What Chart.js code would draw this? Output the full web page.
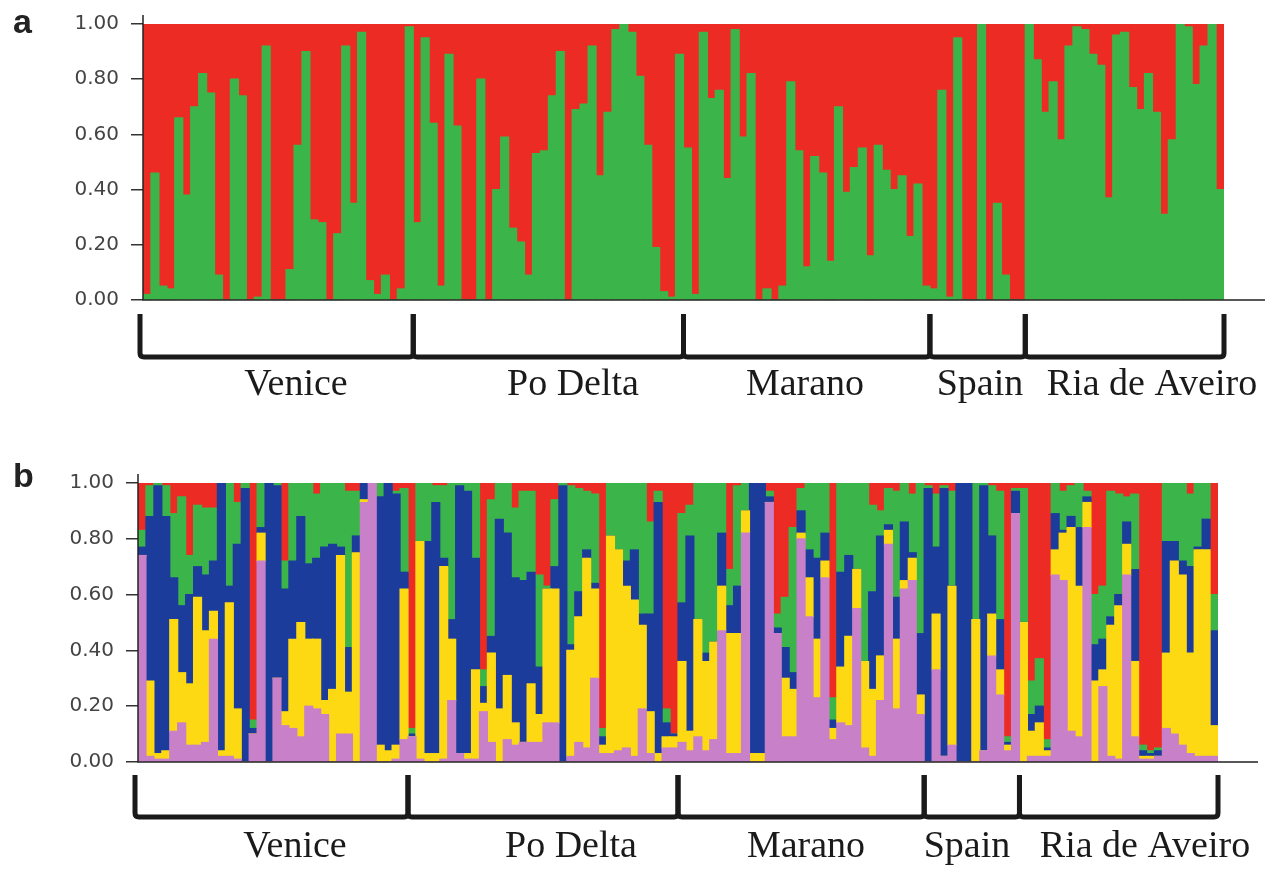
<!DOCTYPE html>
<html>
<head>
<meta charset="utf-8">
<script src="https://cdn.jsdelivr.net/npm/chart.js@4.4.0/dist/chart.umd.min.js"></script>
<style>
  body { margin: 0; background: #fff; width: 1274px; height: 884px; overflow: hidden; position: relative; }
  canvas { position: absolute; left: 0; }
  #chartA { top: 0; }
  #chartB { top: 442px; }
</style>
</head>
<body>
<canvas id="chartA" width="1274" height="442"></canvas>
<canvas id="chartB" width="1274" height="442"></canvas>
<script>
// populations along the x axis, and how many individuals each one has
var populations = ['Venice', 'Po Delta', 'Marano', 'Spain', 'Ria de Aveiro'];
var popSizes = [34, 34, 31, 12, 25];
var yTickLabels = ['0.00', '0.20', '0.40', '0.60', '0.80', '1.00'];

// panel a (K=2): green membership per individual, red is the rest
var greenK2 = [
  .02,.46,.05,.04,.66,.38,.70,.82,.75,.09,0,.80,.74,0,.01,.92,0,0,.11,.56,.90,.29,.28,0,.24,.92,.35,.97,.07,.02,.09,0,.04,.99,
  .28,.95,.64,.05,.89,.63,0,0,.80,0,.40,.59,.26,.21,.09,.53,.54,.74,.90,0,.69,.71,.92,.45,.68,.98,1,.97,.81,.56,.19,.03,.01,.89,
  .55,.02,.97,.73,.76,.44,.98,.59,.82,0,.04,0,.05,.79,.54,.12,.52,.46,.14,.70,.39,.48,.55,.16,.56,.47,.40,.45,.23,.42,
  .05,.04,.76,.01,.95,0,0,1,0,.35,.09,0,0,
  1,.87,.68,.79,.58,.92,.99,.98,.89,.85,.37,.96,.97,.77,.69,.82,.68,.31,.58,1,.99,.78,.92,1,.40
];

// panel b (K=5): top of each colour band, read bottom to top (purple, yellow, blue, green; red fills to 1)
var topPurple = [
  .74,.02,.01,.01,.11,.14,.06,.06,.07,.44,
  .02,.02,.01,0,.10,.72,0,.30,.13,.12,
  .09,.20,.19,.17,0,.10,.10,0,.93,1,
  0,0,.01,.08,.09,.01,0,0,.01,.22,
  .03,.01,.01,.18,.07,0,.08,.06,.07,.07,
  .07,.14,.14,0,.02,.07,.05,.30,.03,.03,
  .04,.05,.02,.19,.03,0,.05,.05,.07,.04,
  .09,.04,.08,.47,.03,.03,.82,0,0,.93,
  .46,.09,.09,.80,.52,.23,.66,.08,.14,.13,
  .55,.05,.02,.22,.78,.19,.62,.65,.17,0,
  .33,.02,.06,0,0,0,.04,.38,.24,.04,
  .89,0,.02,.02,.02,.67,.65,.11,.09,.84,
  0,.27,.02,.01,.67,.09,.01,.01,.02,.12,
  .10,.06,.03,.02,.02,.02
];
var topYellow = [
  .74,.29,.03,.04,.51,.32,.28,.59,.47,.54,
  .04,.57,.19,0,.10,.82,0,.30,.18,.44,
  .50,.44,.44,.22,.26,.74,.25,.75,.94,1,
  .06,.04,.06,.62,.09,.79,.03,.03,.70,.44,
  .03,.03,.33,.21,.39,.19,.31,.14,.07,.28,
  .17,.62,.62,0,.40,.52,.73,.62,.06,.81,
  .76,.63,.58,.49,.18,.03,.09,.09,.36,.11,
  .51,.36,.43,.63,.46,.46,.90,.03,.03,.93,
  .46,.30,.26,.82,.66,.44,.72,.12,.34,.45,
  .69,.36,.26,.38,.83,.44,.65,.73,.24,0,
  .53,.02,.63,0,0,.51,.04,.53,.33,.06,
  .89,.50,.11,.14,.04,.76,.82,.84,.63,.93,
  .29,.33,.49,.56,.78,.36,.02,.02,.02,.39,
  .72,.67,.39,.76,.76,.13
];
var topBlue = [
  .77,.88,.99,.88,.66,.56,.60,.70,.67,.72,
  1,.63,.78,.98,.12,.84,1,.99,.62,.72,
  .88,.71,.73,.77,.78,.77,.41,.81,1,1,
  .95,1,.96,.68,.10,.79,.79,.93,.73,.51,
  .99,.97,.73,.27,.45,.87,.82,.66,.65,.68,
  .34,.62,.70,.99,.42,.61,.76,.64,.09,.81,
  .76,.72,.76,.53,.53,.93,.14,.10,.57,.81,
  .51,.39,.43,.82,.56,.63,.90,1,1,.95,
  .48,.41,.32,.90,.76,.73,.82,.15,.68,.74,
  .69,.36,.61,.81,.85,.59,.86,.75,.46,.98,
  .77,.98,.63,1,1,.51,.99,.81,.51,.07,
  .97,.50,.17,.20,.05,.89,.83,.88,.84,.95,
  .42,.44,.52,.60,.86,.69,.04,.03,.04,.79,
  .79,.72,.70,.77,.87,.47
];
var topGreen = [
  .83,.99,1,.99,.89,.95,.74,.92,.91,.91,
  1,1,.93,1,.15,1,1,1,.72,1,
  1,1,.96,1,1,1,.97,.97,1,1,
  1,1,.97,.98,.12,1,1,.99,.99,1,
  1,1,1,.33,.94,1,1,.91,.97,.97,
  .67,.63,.94,1,.99,.98,.97,.96,.12,1,
  1,1,1,1,.86,.97,.19,.10,.89,.92,
  1,1,1,1,.69,.99,1,1,1,.97,
  .53,.59,.84,.98,1,1,1,.23,1,1,
  1,1,.92,.90,.98,.97,1,.96,1,.99,
  .96,.99,.97,1,1,1,1,.99,.97,.09,
  .98,.98,.29,.37,.08,1,.97,.99,1,.97,
  .60,.63,.97,.96,.95,.96,.06,.04,.05,1,
  1,1,.96,1,1,.60
];

var individuals = greenK2.map(function (v, i) { return String(i + 1); });
var zeros = individuals.map(function () { return 0; });
var ones = individuals.map(function () { return 1; });

var colors = {
  red: '#ec2c24',
  green: '#3bb54a',
  blue: '#1c3c9c',
  yellow: '#fcd912',
  purple: '#c880c8'
};

// floating bar [low, high] for each individual
function span(lo, hi) {
  return lo.map(function (v, i) { return [v, hi[i]]; });
}

function layer(label, data, color) {
  return {
    label: label,
    data: data,
    backgroundColor: color,
    borderWidth: 0,
    barPercentage: 1,
    categoryPercentage: 1,
    inflateAmount: 0.6
  };
}

// axis line, panel letter, population brackets and names
var decor = {
  id: 'decor',
  afterDraw: function (chart, args, o) {
    var ctx = chart.ctx, a = chart.chartArea, xs = chart.scales.x;
    var w = xs.getPixelForValue(1) - xs.getPixelForValue(0);
    ctx.save();
    ctx.strokeStyle = '#222';
    ctx.lineWidth = 1.5;
    ctx.beginPath();
    ctx.moveTo(a.left, a.top - 9);
    ctx.lineTo(a.left, a.bottom);
    ctx.lineTo(o.axisEnd, a.bottom);
    ctx.stroke();

    ctx.fillStyle = '#222';
    ctx.font = 'bold 34px "Liberation Sans"';
    ctx.textAlign = 'left';
    ctx.fillText(o.letter, 13, o.letterY);

    ctx.lineWidth = 5;
    ctx.lineJoin = 'round';
    ctx.strokeStyle = '#1a1a1a';
    var start = 0;
    popSizes.forEach(function (n, k) {
      var x0 = xs.getPixelForValue(start) - w / 2;
      var x1 = xs.getPixelForValue(start + n - 1) + w / 2;
      if (k === 0) x0 -= 3;
      ctx.beginPath();
      ctx.moveTo(x0, o.brTop);
      ctx.lineTo(x0, o.brBottom - 4);
      ctx.quadraticCurveTo(x0, o.brBottom, x0 + 4, o.brBottom);
      ctx.lineTo(x1 - 4, o.brBottom);
      ctx.quadraticCurveTo(x1, o.brBottom, x1, o.brBottom - 4);
      ctx.lineTo(x1, o.brTop);
      ctx.stroke();
      start += n;
    });

    ctx.fillStyle = '#1a1a1a';
    ctx.font = '38px "Liberation Serif"';
    ctx.textAlign = 'center';
    populations.forEach(function (p, k) {
      ctx.fillText(p, o.labelX[k], o.labelY);
    });
    ctx.restore();
  }
};

function makeOptions(cfg) {
  return {
    responsive: false,
    animation: false,
    layout: { padding: { top: cfg.top, bottom: cfg.bottom, left: 0, right: cfg.right } },
    plugins: {
      legend: { display: false },
      tooltip: { enabled: false },
      decor: cfg
    },
    scales: {
      x: { type: 'category', stacked: true, display: false },
      y: {
        min: 0,
        max: 1,
        stacked: false,
        afterFit: function (s) { s.width = cfg.left; },
        ticks: {
          stepSize: 0.2,
          callback: function (v, i) { return yTickLabels[i]; },
          font: { family: 'DejaVu Sans', size: 20 },
          color: '#444',
          padding: 12
        },
        grid: { drawOnChartArea: false, drawTicks: true, tickLength: 12, color: '#333', lineWidth: 1.5 },
        border: { display: false }
      }
    }
  };
}

new Chart(document.getElementById('chartA'), {
  type: 'bar',
  data: {
    labels: individuals,
    datasets: [
      layer('Cluster 1', span(zeros, greenK2), colors.green),
      layer('Cluster 2', span(greenK2, ones), colors.red)
    ]
  },
  options: makeOptions({
    top: 22, bottom: 142, right: 50, left: 143,
    letter: 'a', letterY: 33, axisEnd: 1265,
    brTop: 314, brBottom: 357,
    labelX: [296, 573, 805, 980, 1152], labelY: 395
  }),
  plugins: [decor]
});

new Chart(document.getElementById('chartB'), {
  type: 'bar',
  data: {
    labels: individuals,
    datasets: [
      layer('Cluster 1', span(zeros, topPurple), colors.purple),
      layer('Cluster 2', span(topPurple, topYellow), colors.yellow),
      layer('Cluster 3', span(topYellow, topBlue), colors.blue),
      layer('Cluster 4', span(topBlue, topGreen), colors.green),
      layer('Cluster 5', span(topGreen, ones), colors.red)
    ]
  },
  options: makeOptions({
    top: 41, bottom: 122, right: 56, left: 138,
    letter: 'b', letterY: 45, axisEnd: 1258,
    brTop: 333, brBottom: 375,
    labelX: [295, 571, 806, 967, 1145], labelY: 415
  }),
  plugins: [decor]
});
</script>
</body>
</html>
